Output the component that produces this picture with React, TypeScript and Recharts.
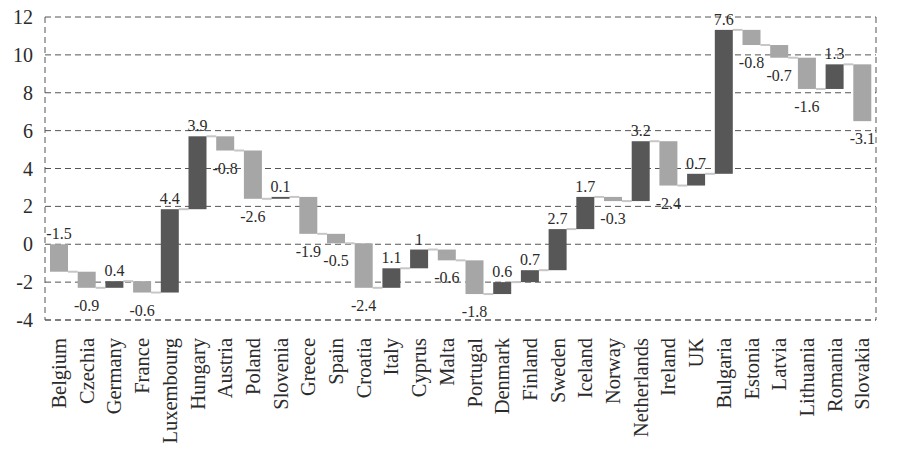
import React from 'react';
import { BarChart, Bar, XAxis, YAxis, CartesianGrid } from 'recharts';

const countries = ['Belgium', 'Czechia', 'Germany', 'France', 'Luxembourg', 'Hungary', 'Austria', 'Poland', 'Slovenia', 'Greece', 'Spain', 'Croatia', 'Italy', 'Cyprus', 'Malta', 'Portugal', 'Denmark', 'Finland', 'Sweden', 'Iceland', 'Norway', 'Netherlands', 'Ireland', 'UK', 'Bulgaria', 'Estonia', 'Latvia', 'Lithuania', 'Romania', 'Slovakia'];

// labelled change for each country
const changes = [-1.5, -0.9, 0.4, -0.6, 4.4, 3.9, -0.8, -2.6, 0.1, -1.9, -0.5, -2.4, 1.1, 1, -0.6, -1.8, 0.6, 0.7, 2.7, 1.7, -0.3, 3.2, -2.4, 0.7, 7.6, -0.8, -0.7, -1.6, 1.3, -3.1];

// cumulative level reached after each country (as drawn in the picture)
const levels = [-1.45, -2.3, -1.95, -2.55, 1.85, 5.7, 4.95, 2.4, 2.5, 0.55, 0.05, -2.3, -1.27, -0.28, -0.85, -2.63, -2.0, -1.37, 0.8, 2.5, 2.28, 5.44, 3.1, 3.72, 11.32, 10.52, 9.85, 8.2, 9.5, 6.5];

const yTicks = [-4, -2, 0, 2, 4, 6, 8, 10, 12];

const data = countries.map((name, i) => {
  const start = i === 0 ? 0 : levels[i - 1];
  const end = levels[i];
  return {
    name,
    change: changes[i],
    range: [Math.min(start, end), Math.max(start, end)],
  };
});

const W = 900;
const H = 461;
const M = { top: 17, right: 0, bottom: 0, left: 0 };
const LEFT_W = 45;
const RIGHT_W = 24;
const PLOT_W = W - LEFT_W - RIGHT_W;
const STEP = PLOT_W / countries.length;

const POS = '#575757';
const NEG = '#a6a6a6';
const TEXT = '#2b2b2b';
const FONT = 'Liberation Serif, DejaVu Serif, serif';

const WaterfallShape = (props: any) => {
  const { x, y, width, height, payload, index } = props;
  const positive = payload.change >= 0;
  const endY = positive ? y : y + height;
  const cx = x + width / 2;
  const above = positive || index === 0;
  const labelY = above ? y - 5 : y + height + 23;
  const last = index === countries.length - 1;
  return (
    <g>
      {!last && (
        <line
          x1={x + width}
          x2={x + STEP}
          y1={endY}
          y2={endY}
          stroke="#c6c6c6"
          strokeWidth={2}
        />
      )}
      <rect x={x} y={y} width={width} height={Math.max(height, 1.5)} fill={positive ? POS : NEG} />
      <text
        x={cx}
        y={labelY}
        textAnchor="middle"
        style={{ fontSize: 16, fontFamily: FONT, fill: TEXT }}
      >
        {String(payload.change)}
      </text>
    </g>
  );
};

const CategoryTick = (props: any) => {
  const { x, y, payload } = props;
  const ty = y + 10;
  return (
    <text
      x={x}
      y={ty}
      transform={`rotate(-90, ${x}, ${ty})`}
      textAnchor="end"
      dy="0.35em"
      style={{ fontSize: 20.5, fontFamily: FONT, fill: TEXT }}
    >
      {payload.value}
    </text>
  );
};

const ValueTick = (props: any) => {
  const { x, y, payload } = props;
  return (
    <text
      x={x}
      y={y}
      textAnchor="end"
      dy="0.35em"
      style={{ fontSize: 20, fontFamily: FONT, fill: TEXT }}
    >
      {payload.value}
    </text>
  );
};

export default function App() {
  return (
    <div style={{ position: 'absolute', left: 0, top: 0, width: W, height: H, background: '#fff', fontFamily: FONT }}>
      <BarChart width={W} height={H} data={data} margin={M} barSize={18}>
        <CartesianGrid
          yAxisId="l"
          vertical={false}
          stroke="#555"
          strokeDasharray="6 4"
        />
        <XAxis
          dataKey="name"
          interval={0}
          height={141}
          tickLine={false}
          axisLine={{ stroke: '#555', strokeDasharray: '6 4' }}
          tick={<CategoryTick />}
        />
        <YAxis
          yAxisId="l"
          width={LEFT_W}
          domain={[-4, 12]}
          ticks={yTicks}
          interval={0}
          tickLine={false}
          tickMargin={6}
          axisLine={{ stroke: '#555', strokeDasharray: '6 4' }}
          tick={<ValueTick />}
        />
        <YAxis
          yAxisId="r"
          orientation="right"
          width={RIGHT_W}
          domain={[-4, 12]}
          ticks={yTicks}
          tick={false}
          tickLine={false}
          axisLine={{ stroke: '#555', strokeDasharray: '6 4' }}
        />
        <Bar
          yAxisId="l"
          dataKey="range"
          shape={<WaterfallShape />}
          isAnimationActive={false}
        />
      </BarChart>
    </div>
  );
}
